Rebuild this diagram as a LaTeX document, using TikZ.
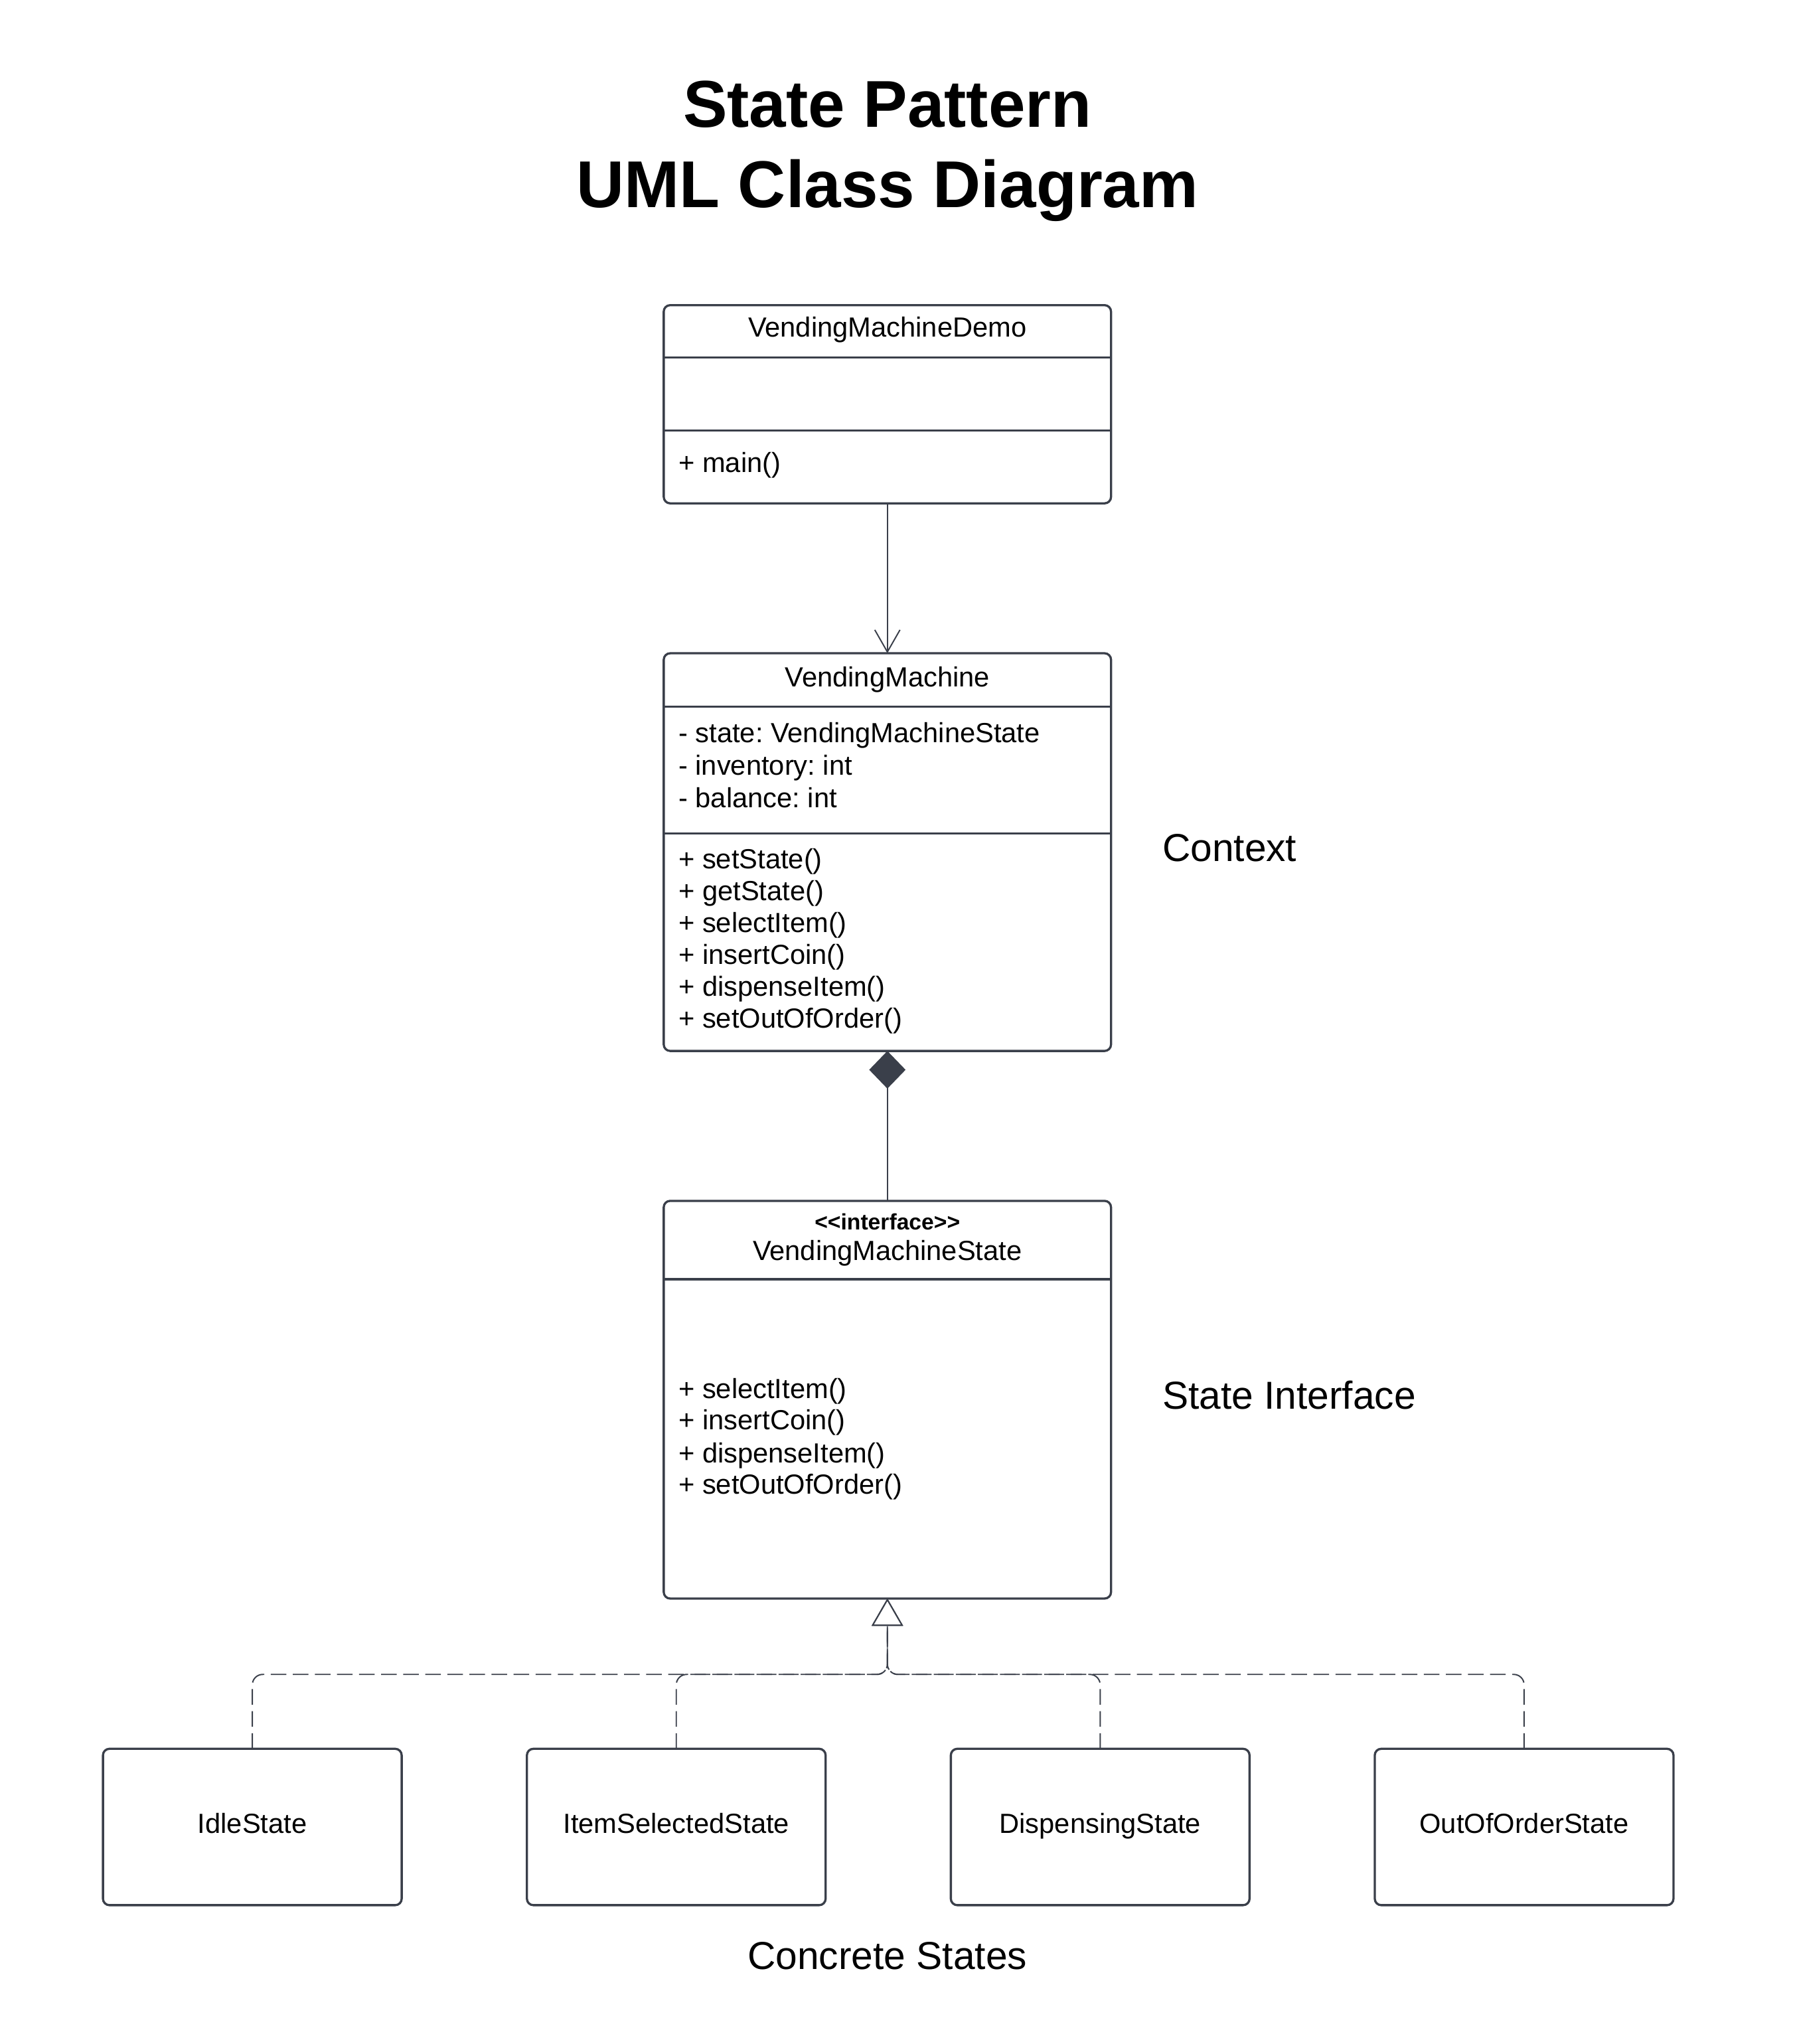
\documentclass[tikz,border=0pt]{standalone}
\usepackage{fontspec}
\setmainfont{Liberation Sans}
\usetikzlibrary{positioning, arrows.meta}
\definecolor{linegray}{HTML}{3A3F4A}
\frenchspacing

\begin{document}
\begin{tikzpicture}[x=0.502pt, y=-0.502pt]
\tikzstyle{classnode} = [rectangle, draw=linegray, line width=0.85pt, rounded corners=2.5pt, minimum width=172.2pt, inner sep=0pt, outer sep=0pt]
\tikzstyle{statenode} = [classnode, minimum width=115pt, minimum height=60.2pt, text height=6.5pt, text depth=1.5pt, font=\fontsize{10.65}{12}\selectfont]
\tikzstyle{member} = [anchor=base west, inner sep=0pt, font=\fontsize{10.65}{12}\selectfont]
\tikzstyle{cname} = [member, anchor=base]
\tikzstyle{note} = [inner sep=0pt, font=\fontsize{15}{18}\selectfont]
\tikzstyle{titletext} = [anchor=base, inner sep=0pt, font=\fontsize{25.5}{30}\selectfont\bfseries]
\tikzstyle{divider} = [draw=linegray, line width=0.85pt]
\tikzstyle{assoc} = [draw=linegray, line width=0.5pt, -{Straight Barb[length=8.5pt, width=9.7pt]}]
\tikzstyle{compos} = [draw=linegray, line width=0.5pt, {Diamond[length=14.5pt, width=14pt, fill=linegray]}-]
\tikzstyle{realize} = [draw=linegray, line width=0.5pt, dash pattern=on 6pt off 2.5pt, rounded corners=4pt, -{Triangle[open, length=10.5pt, width=12pt, fill=white]}]

\useasboundingbox (0pt,0pt) rectangle (690pt,-786.85pt);

% Заголовок
\node[titletext] (title1) at (680.5,97.6) {State Pattern};
\node[titletext] (title2) at (680.5,159.3) {UML Class Diagram};

% Классы
\node[classnode, minimum height=76.3pt] (demo) at (680.5,310) {};
\node[classnode, minimum height=153.1pt] (vm) [below=57.7pt of demo] {};
\node[classnode, minimum height=153.1pt] (iface) [below=57.7pt of vm] {};

% Разделители
\draw[divider] (demo.west |- 0,274) -- (demo.east |- 0,274);
\draw[divider] (demo.west |- 0,330) -- (demo.east |- 0,330);
\draw[divider] (vm.west |- 0,542) -- (vm.east |- 0,542);
\draw[divider] (vm.west |- 0,639) -- (vm.east |- 0,639);
\draw[divider] (iface.west |- 0,981) -- (iface.east |- 0,981);

% VendingMachineDemo
\node[cname] (demoname) at (680.5,258.5) {VendingMachineDemo};
\node[member] (demomain) at (520,362) {+ main()};

% VendingMachine
\node[cname] (vmname) at (680.5,526.5) {VendingMachine};
\node[member] (vmstate) at (520,569.5) {- state: VendingMachineState};
\node[member] (vminv) at (520,594.5) {- inventory: int};
\node[member] (vmbal) at (520,619.5) {- balance: int};
\node[member] (vmset) at (520,666) {+ setState()};
\node[member] (vmget) at (520,690.5) {+ getState()};
\node[member] (vmselect) at (520,715) {+ selectItem()};
\node[member] (vmcoin) at (520,739.5) {+ insertCoin()};
\node[member] (vmdisp) at (520,764) {+ dispenseItem()};
\node[member] (vmout) at (520,788.5) {+ setOutOfOrder()};

% VendingMachineState
\node[cname, font=\fontsize{8.6}{10}\selectfont\bfseries] (ifacetag) at (680.5,943) {<{}<interface>{}>};
\node[cname] (ifacename) at (680.5,966.5) {VendingMachineState};
\node[member] (ifselect) at (520,1072.5) {+ selectItem()};
\node[member] (ifcoin) at (520,1096.5) {+ insertCoin()};
\node[member] (ifdisp) at (520,1121.5) {+ dispenseItem()};
\node[member] (ifout) at (520,1145.5) {+ setOutOfOrder()};

% Конкретные состояния
\node[statenode] (idle) at (193.5,1401) {IdleState};
\node[statenode] (selected) [right=48.2pt of idle] {ItemSelectedState};
\node[statenode] (dispensing) [right=48.2pt of selected] {DispensingState};
\node[statenode] (outoforder) [right=48.2pt of dispensing] {OutOfOrderState};

% Подписи
\node[note, anchor=west] (ctxlabel) at (891,650) {Context};
\node[note, anchor=west] (iflabel) at (891,1070) {State Interface};
\node[note] (concretelabel) at (680.5,1500) {Concrete States};

% Связи
\draw[assoc] (demo) -- (vm);
\draw[compos] (vm) -- (iface);

\coordinate (bus) at (680.5,1284);
\draw[realize] (idle) |- (bus) -- (iface);
\draw[realize] (selected) |- (bus) -- (iface);
\draw[realize] (dispensing) |- (bus) -- (iface);
\draw[realize] (outoforder) |- (bus) -- (iface);

\end{tikzpicture}
\end{document}
